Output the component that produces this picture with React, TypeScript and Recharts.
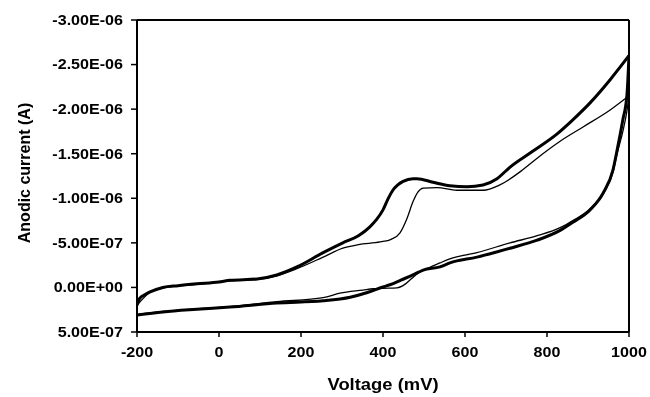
import { LineChart, Line, XAxis, YAxis, ReferenceLine } from "recharts";

const FONT = "'Liberation Sans', Arial, sans-serif";
const STRETCH = 1.15;

const VOLT_TICKS = [-200, 0, 200, 400, 600, 800, 1000];
const CURRENT_TICKS = [-3e-6, -2.5e-6, -2e-6, -1.5e-6, -1e-6, -5e-7, 0, 5e-7];

// currents below are in units of 1e-7 A, voltages in mV

// thick trace, forward (upper) branch
const thickFwdV = [-200, -193, -180, -168, -137, -100, -54, 0, 27, 93, 141, 190, 254, 302, 340, 368, 384, 400, 412, 424, 436, 449, 473, 483, 522, 563, 605, 644, 678, 710, 766, 824, 863, 905, 954, 1000];
const thickFwdI = [2.0, 1.2, 0.8, 0.5, 0.0, -0.2, -0.4, -0.6, -0.8, -0.95, -1.4, -2.3, -3.9, -5.0, -5.8, -6.8, -7.6, -8.7, -9.9, -10.9, -11.5, -11.9, -12.2, -12.2, -11.8, -11.4, -11.3, -11.5, -12.2, -13.5, -15.3, -17.2, -18.8, -20.7, -23.3, -26.0];

// thick trace, return (lower) branch
const thickRevV = [-200, -137, -54, 27, 141, 254, 320, 360, 400, 417, 445, 473, 498, 539, 563, 629, 710, 776, 832, 863, 905, 937, 961, 971, 985, 995, 1000];
const thickRevI = [3.1, 2.75, 2.45, 2.2, 1.75, 1.5, 1.1, 0.6, -0.05, -0.3, -0.85, -1.4, -1.95, -2.3, -2.75, -3.4, -4.4, -5.3, -6.4, -7.3, -8.7, -10.6, -13.2, -15.4, -18.8, -21.6, -26.0];

// thin trace, forward (upper) branch
const thinFwdV = [-200, -168, -137, -54, 27, 93, 141, 190, 254, 302, 340, 393, 420, 441, 459, 473, 485, 498, 532, 580, 644, 685, 741, 776, 832, 888, 954, 1000];
const thinFwdI = [2.0, 0.55, 0.05, -0.35, -0.75, -0.9, -1.3, -2.1, -3.4, -4.4, -4.8, -5.1, -5.4, -6.1, -7.8, -9.6, -10.7, -11.15, -11.2, -10.9, -10.9, -11.5, -13.2, -14.5, -16.4, -18.0, -19.9, -21.5];

// thin trace, return (lower) branch
const thinRevV = [-200, -137, -54, 27, 141, 254, 295, 351, 376, 400, 434, 455, 470, 483, 498, 539, 563, 629, 710, 776, 832, 863, 905, 937, 961, 971, 985, 995, 1000];
const thinRevI = [3.05, 2.7, 2.4, 2.15, 1.6, 1.15, 0.65, 0.3, 0.15, 0.1, 0.05, -0.4, -1.0, -1.5, -1.9, -2.75, -3.2, -3.9, -5.0, -5.8, -6.7, -7.5, -8.8, -10.5, -12.9, -15.0, -17.5, -19.8, -21.5];

const toPoints = (v: number[], cur: number[]) => v.map((x, k) => ({ v: x, i: cur[k] * 1e-7 }));

function sci(val: number) {
  if (val === 0) return "0.00E+00";
  const e = Math.floor(Math.log10(Math.abs(val)) + 1e-9);
  const m = val / Math.pow(10, e);
  return `${m.toFixed(2)}E${e < 0 ? "-" : "+"}${String(Math.abs(e)).padStart(2, "0")}`;
}

function YTick({ x, y, payload }: any) {
  return (
    <g transform={`translate(${x},${y})`}>
      <text transform={`scale(${STRETCH},1)`} textAnchor="end" dy="0.35em" fontFamily={FONT} fontWeight="bold" fontSize={14} fill="#000">
        {sci(payload.value)}
      </text>
    </g>
  );
}

function XTick({ x, y, payload }: any) {
  return (
    <g transform={`translate(${x},${y})`}>
      <text transform={`scale(${STRETCH},1)`} textAnchor="middle" dy="0.71em" fontFamily={FONT} fontWeight="bold" fontSize={14} fill="#000">
        {payload.value}
      </text>
    </g>
  );
}

function XTitle({ viewBox }: any) {
  const { x, y, width } = viewBox;
  return (
    <g transform={`translate(${x + width / 2},${y + 58})`}>
      <text transform={`scale(${STRETCH},1)`} textAnchor="middle" fontFamily={FONT} fontWeight="bold" fontSize={16} fill="#000">
        Voltage (mV)
      </text>
    </g>
  );
}

function YTitle({ viewBox }: any) {
  const { y, height } = viewBox;
  return (
    <text transform={`translate(30,${y + height / 2 - 3}) rotate(-90)`} textAnchor="middle" fontFamily={FONT} fontWeight="bold" fontSize={16} fill="#000">
      Anodic current (A)
    </text>
  );
}

export default function App() {
  const series = [
    { key: "thickFwd", data: toPoints(thickFwdV, thickFwdI), w: 3 },
    { key: "thickRev", data: toPoints(thickRevV, thickRevI), w: 3 },
    { key: "thinFwd", data: toPoints(thinFwdV, thinFwdI), w: 1.3 },
    { key: "thinRev", data: toPoints(thinRevV, thinRevI), w: 1.3 },
  ];

  // pinned to the window corner so the body margin plays no part
  return (
    <div style={{ position: "fixed", left: 0, top: 0, width: 650, height: 397 }}>
      <LineChart width={650} height={397} margin={{ top: 20, right: 21, bottom: 0, left: 0 }}>
        <XAxis
          type="number"
          dataKey="v"
          domain={[-200, 1000]}
          ticks={VOLT_TICKS}
          allowDataOverflow
          height={65}
          tickSize={5}
          tickMargin={10}
          axisLine={{ stroke: "#000", strokeWidth: 2 }}
          tickLine={{ stroke: "#000", strokeWidth: 1.5 }}
          tick={<XTick />}
          label={<XTitle />}
        />
        <YAxis
          type="number"
          domain={[-3e-6, 5e-7]}
          ticks={CURRENT_TICKS}
          reversed
          allowDataOverflow
          width={137}
          tickSize={6}
          tickMargin={8}
          axisLine={{ stroke: "#000", strokeWidth: 2 }}
          tickLine={{ stroke: "#000", strokeWidth: 1.5 }}
          tick={<YTick />}
          label={<YTitle />}
        />
        <ReferenceLine y={-3e-6} stroke="#000" strokeWidth={2} />
        <ReferenceLine x={1000} stroke="#000" strokeWidth={2} />
        {series.map((s) => (
          <Line
            key={s.key}
            data={s.data}
            dataKey="i"
            type="monotone"
            stroke="#000"
            strokeWidth={s.w}
            dot={false}
            activeDot={false}
            isAnimationActive={false}
          />
        ))}
      </LineChart>
    </div>
  );
}
